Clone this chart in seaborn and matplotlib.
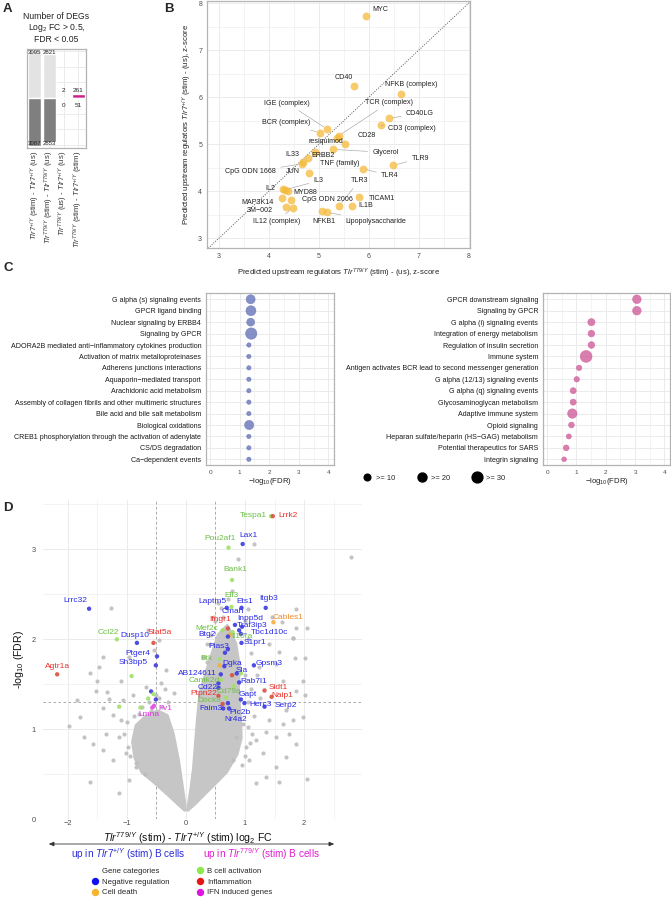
import matplotlib
matplotlib.use("Agg")
import numpy as np
import pandas as pd
import matplotlib.pyplot as plt
from matplotlib.lines import Line2D
from matplotlib.ticker import MultipleLocator
import seaborn as sns

# ── A: number of DEGs ───────────────────────────────────────────────────────
DEG_COMPARISONS = [
    r"$\mathit{Tlr7}^{+/Y}$ (stim) - $\mathit{Tlr7}^{+/Y}$ (us)",
    r"$\mathit{Tlr}^{779/Y}$ (stim) - $\mathit{Tlr}^{779/Y}$ (us)",
    r"$\mathit{Tlr}^{779/Y}$ (us) - $\mathit{Tlr7}^{+/Y}$ (us)",
    r"$\mathit{Tlr}^{779/Y}$ (stim) - $\mathit{Tlr7}^{+/Y}$ (stim)",
]
DEG_UP = [3095, 2821, 2, 261]
DEG_DOWN = [3087, 2853, 0, 51]

# ── B: upstream regulators (z-scores) ───────────────────────────────────────
REG_NAMES = ["MYC", "CD40", "NFKB (complex)", "CD40LG", "CD3 (complex)",
             "IGE (complex)", "BCR (complex)", "TCR (complex)", "resiquimod",
             "CD28", "Glycerol", "TNF (family)", "ERBB2", "IL33", "CpG ODN 1668",
             "JUN", "TLR9", "TLR4", "IL2", "MYD88", "IL3", "TLR3", "TICAM1",
             "IL1B", "CpG ODN 2006", "MAP3K14", "3M\u2212002", "IL12 (complex)",
             "NFKB1", "Lipopolysaccharide"]
REG_MUT = [5.94, 5.71, 6.65, 6.40, 6.25, 5.17, 5.03, 5.40, 5.36, 5.52, 5.29,
           4.93, 4.78, 4.68, 4.66, 4.80, 6.49, 5.88, 4.29, 4.38, 4.33, 5.41,
           5.81, 5.67, 4.45, 4.27, 4.35, 4.48, 5.07, 5.16]
REG_WT = [7.74, 6.23, 6.07, 5.55, 5.40, 5.32, 5.24, 5.18, 5.13, 5.00, 4.89,
          4.84, 4.71, 4.62, 4.58, 4.38, 4.55, 4.48, 4.05, 4.01, 4.03, 3.69,
          3.88, 3.69, 3.82, 3.85, 3.67, 3.65, 3.57, 3.55]

# ── C: pathway enrichment ───────────────────────────────────────────────────
PATH_DOWN = ["G alpha (s) signaling events", "GPCR ligand binding",
             "Nuclear signaling by ERBB4", "Signaling by GPCR",
             "ADORA2B mediated anti\u2212inflammatory cytokines production",
             "Activation of matrix metalloproteinases",
             "Adherens junctions interactions", "Aquaporin\u2212mediated transport",
             "Arachidonic acid metabolism",
             "Assembly of collagen fibrils and other multimeric structures",
             "Bile acid and bile salt metabolism", "Biological oxidations",
             "CREB1 phosphorylation through the activation of adenylate",
             "CS/DS degradation", "Ca\u2212dependent events"]
FDR_DOWN = [1.37, 1.38, 1.37, 1.39, 1.31, 1.31, 1.31, 1.31, 1.31, 1.31, 1.31,
            1.32, 1.31, 1.31, 1.31]
COUNT_DOWN = [20, 25, 15, 33, 3, 3, 3, 3, 3, 3, 3, 21, 3, 3, 3]

PATH_UP = ["GPCR downstream signaling", "Signaling by GPCR",
           "G alpha (i) signaling events", "Integration of energy metabolism",
           "Regulation of insulin secretion", "Immune system",
           "Antigen activates BCR lead to second messenger generation",
           "G alpha (12/13) signaling events", "G alpha (q) signaling events",
           "Glycosaminoglycan metabolism", "Adaptive immune system",
           "Opioid signaling", "Heparan sulfate/heparin (HS\u2212GAG) metabolism",
           "Potential therapeutics for SARS", "Integrin signaling"]
FDR_UP = [3.06, 3.06, 1.51, 1.51, 1.51, 1.33, 1.09, 1.01, 0.89, 0.89, 0.86,
          0.83, 0.74, 0.65, 0.58]
COUNT_UP = [18, 18, 12, 10, 10, 36, 6, 6, 8, 8, 22, 7, 5, 7, 4]

SIZE_LEVELS = [10, 20, 30]

# ── D: volcano ──────────────────────────────────────────────────────────────
CATEGORIES = ["Negative regulation", "Cell death", "B cell activation",
              "Inflammation", "IFN induced genes"]

GENE_NAMES = ["Lrrc32", "Ccl22", "Dusp10", "Stat5a", "Ptger4", "Sh3bp5", "Agtr1a",
              "Tespa1", "Lrrk2", "Pou2af1", "Lax1", "Bank1", "Ell3", "Laptm5",
              "Ets1", "Itgb3", "Cmah", "Cables1", "Inpp5d", "Ifngr1", "Traf3ip3",
              "Mef2c", "Tbc1d10c", "Btg2", "Il10ra", "S1pr1", "Pias3", "Btk",
              "Dgka", "Gpsm3", "Sla", "AB124611", "Camk2d", "Rab7l1", "Cd22",
              "Cd79a", "Sidt1", "Naip1", "Ptpn22", "Dock8", "Gapt", "Herc3",
              "Serp2", "Faim3", "Plc2b", "Nr4a2", "Fv1", "Lmna"]
GENE_FC = [-1.64, -1.17, -0.83, -0.55, -0.49, -0.51, -2.18, 1.44, 1.47, 0.72,
           0.96, 0.78, 0.77, 0.69, 0.94, 1.35, 0.83, 1.48, 0.95, 0.71, 0.90,
           0.62, 0.93, 0.71, 0.79, 0.94, 0.71, 0.57, 0.65, 1.15, 0.86, 0.59,
           0.59, 0.90, 0.55, 0.81, 1.33, 1.45, 0.55, 0.68, 0.93, 0.99, 1.33,
           0.63, 0.71, 0.73, -0.54, -0.57]
GENE_FDR = [2.34, 2.00, 1.96, 1.96, 1.81, 1.71, 1.61, 3.37, 3.37, 3.02, 3.06,
            2.66, 2.36, 2.35, 2.35, 2.35, 2.16, 2.19, 2.14, 2.12, 2.10, 2.10,
            2.06, 2.03, 2.08, 1.96, 1.89, 1.78, 1.70, 1.71, 1.62, 1.61, 1.55,
            1.52, 1.46, 1.48, 1.43, 1.36, 1.37, 1.35, 1.33, 1.29, 1.25, 1.23,
            1.29, 1.23, 1.26, 1.24]
GENE_CAT = ["Negative regulation", "B cell activation", "Negative regulation",
            "Inflammation", "Negative regulation", "Negative regulation",
            "Inflammation", "B cell activation", "Inflammation", "B cell activation",
            "Negative regulation", "B cell activation", "B cell activation",
            "Negative regulation", "Negative regulation", "Negative regulation",
            "Negative regulation", "Cell death", "Negative regulation",
            "Inflammation", "Negative regulation", "B cell activation",
            "Negative regulation", "Negative regulation", "B cell activation",
            "Negative regulation", "Negative regulation", "B cell activation",
            "Negative regulation", "Negative regulation", "Negative regulation",
            "Negative regulation", "B cell activation", "Negative regulation",
            "Negative regulation", "B cell activation", "Inflammation",
            "Inflammation", "Inflammation", "B cell activation",
            "Negative regulation", "Negative regulation", "Negative regulation",
            "Negative regulation", "Negative regulation", "Negative regulation",
            "IFN induced genes", "IFN induced genes"]

# coloured but unlabelled genes
EXTRA_FC = [-0.59, -0.55, -0.51, -0.64, -1.13, -0.77, -0.92, 0.74, 0.57, 0.78,
            0.93, 0.55, 0.66, 0.62]
EXTRA_FDR = [1.42, 1.39, 1.33, 1.34, 1.25, 1.24, 1.59, 2.05, 1.71, 1.60, 1.62,
             1.51, 1.85, 1.28]
EXTRA_CAT = ["Negative regulation", "B cell activation", "Negative regulation",
             "B cell activation", "B cell activation", "B cell activation",
             "B cell activation", "Cell death", "Cell death", "Inflammation",
             "B cell activation", "Negative regulation", "Negative regulation",
             "Inflammation"]

# scattered background genes
BG_FC = [-1.27, -1.63, -1.47, -1.51, -1.10, -1.33, -1.07, -0.90, -0.68, -0.42,
         -1.79, -1.72, -1.62, -1.41, -1.24, -0.79, -0.62, -0.51, -0.40, -1.13,
         -1.36, -1.02, -1.24, -1.41, -0.85, -1.30, -1.41, -0.96, -0.54, -0.34,
         -0.65, -0.45, -1.53, -1.84, -1.98, -1.58, -0.96, -1.13,
         1.81, 1.86, 2.01, 1.84, 1.64, 1.86, 2.01, 1.69, 1.81, 1.64, 1.36, 1.53,
         1.75, 1.98, 1.86, 1.69, 1.53, 1.36, 1.19, 1.58, 2.05, 1.30, 1.07, 1.02,
         1.19, 1.41, 1.98, 1.53, 1.24, 1.58, 0.85, 0.96, 0.79,
         1.15, 0.88, 2.79, 0.78, 1.87, 2.05, 1.62, 1.46, 1.82, 1.41, 0.59, 1.05,
         0.35, 0.40, 0.50, 0.62, 0.55, 0.72, 1.00, 1.05, 1.10, 1.20, 1.10, 1.05,
         1.15, 1.25, 1.00, -0.35, -0.45, -0.30, -0.20,
         -1.00, -1.05, -0.98, -0.85, -0.70, -0.60, -0.88, -0.75, -0.95, -1.10,
         1.05, 1.08, 1.00, 1.12, 0.95, 0.30, 0.28, 0.35, 0.42, 0.48]
BG_FDR = [2.35, 1.62, 1.69, 1.54, 1.54, 1.41, 1.32, 1.38, 1.47, 1.51,
          1.13, 0.91, 0.41, 1.23, 1.16, 1.17, 1.30, 1.38, 1.25, 0.91,
          0.95, 0.73, 0.66, 0.77, 0.58, 1.34, 1.80, 1.80, 1.88, 1.66,
          2.10, 1.99, 1.43, 1.32, 1.03, 0.84, 0.43, 0.29,
          2.01, 2.12, 1.79, 1.79, 1.54, 1.43, 1.38, 1.21, 1.10, 1.06, 0.97, 0.91,
          0.95, 1.14, 0.84, 0.69, 0.58, 0.47, 0.40, 0.41, 0.44, 0.73, 0.66, 0.80,
          0.88, 1.10, 1.54, 1.73, 1.69, 1.86, 0.91, 1.06, 0.66,
          3.06, 2.89, 2.92, 2.54, 2.34, 2.13, 2.19, 2.25, 2.01, 1.95, 2.35, 2.34,
          1.75, 1.95, 2.20, 2.25, 2.40, 2.45, 2.20, 2.00, 1.85, 1.60, 1.45, 1.30,
          1.15, 1.35, 1.60, 1.45, 1.35, 1.30, 1.40,
          1.08, 0.95, 0.80, 0.62, 0.50, 1.20, 1.15, 1.25, 0.70, 1.10,
          1.02, 0.85, 0.70, 0.95, 0.60, 1.55, 1.80, 1.95, 2.05, 2.25]

# outline of the dense part of the volcano
CLOUD_L_FC = [-0.02, -0.12, -0.30, -0.52, -0.74, -0.86, -0.90, -0.84, -0.68,
              -0.48, -0.32, -0.22, -0.13, -0.07, -0.03]
CLOUD_L_FDR = [0.10, 0.16, 0.27, 0.40, 0.52, 0.68, 0.86, 1.04, 1.14, 1.20,
               1.15, 0.95, 0.65, 0.38, 0.20]
CLOUD_R_FC = [0.03, 0.15, 0.30, 0.50, 0.68, 0.86, 0.93, 0.92, 0.88, 0.90, 0.84,
              0.70, 0.55, 0.45, 0.33, 0.24, 0.20, 0.17, 0.13, 0.08, 0.05]
CLOUD_R_FDR = [0.10, 0.17, 0.27, 0.40, 0.52, 0.72, 0.90, 1.12, 1.40, 1.70, 1.95,
               2.15, 2.05, 1.85, 1.60, 1.40, 1.12, 0.88, 0.55, 0.30, 0.18]

# ── label placement (offsets in pixels, style only) ─────────────────────────
REG_OFFSETS = {
    "MYC": (15, 6), "CD40": (-10, 9), "NFKB (complex)": (10, 9),
    "CD40LG": (31, 5), "CD3 (complex)": (31, -3), "IGE (complex)": (-40, 26),
    "BCR (complex)": (-34, 10), "TCR (complex)": (50, 33), "resiquimod": (-11, -3),
    "CD28": (22, 9), "Glycerol": (52, -3), "TNF (family)": (24, -12),
    "ERBB2": (15, 2), "IL33": (-10, 8), "CpG ODN 1668": (-51, -8),
    "JUN": (-16, 2), "TLR9": (27, 7), "TLR4": (27, -7), "IL2": (-13, 0),
    "MYD88": (17, -2), "IL3": (33, 9), "TLR3": (20, 25), "TICAM1": (23, -2),
    "IL1B": (14, 0), "CpG ODN 2006": (36, 0), "MAP3K14": (-25, -4),
    "3M\u2212002": (-27, -4), "IL12 (complex)": (-16, -14), "NFKB1": (2, -10),
    "Lipopolysaccharide": (49, -9),
}
REG_SEGMENTS = {"IGE (complex)", "BCR (complex)", "TCR (complex)", "Glycerol",
                "TNF (family)", "TLR9", "TLR4", "IL3", "TLR3", "IL12 (complex)",
                "Lipopolysaccharide", "CpG ODN 1668", "CD40LG", "CD3 (complex)"}

GENE_OFFSETS = {
    "Lrrc32": (-14, 8), "Ccl22": (-8, 7), "Dusp10": (-2, 7), "Stat5a": (6, 10),
    "Ptger4": (-19, 3), "Sh3bp5": (-23, 3), "Agtr1a": (0, 8), "Tespa1": (-18, 1),
    "Lrrk2": (15, 1), "Pou2af1": (-8, 9), "Lax1": (6, 9), "Bank1": (3, 10),
    "Ell3": (0, 11), "Laptm5": (-14, 6), "Ets1": (3, 6), "Itgb3": (3, 9),
    "Cmah": (-2, 13), "Cables1": (15, 5), "Inpp5d": (8, 8), "Ifngr1": (-8, 9),
    "Traf3ip3": (13, 5), "Mef2c": (-16, 2), "Tbc1d10c": (29, 1), "Btg2": (-21, 2),
    "Il10ra": (9, -4), "S1pr1": (13, 0), "Pias3": (-9, 3), "Btk": (-13, 1),
    "Dgka": (8, 3), "Gpsm3": (15, 2), "Sla": (5, 3), "AB124611": (-23, 1),
    "Camk2d": (-17, -1), "Rab7l1": (15, 1), "Cd22": (-11, 0), "Cd79a": (-5, -5),
    "Sidt1": (13.5, 3.5), "Naip1": (11, 1), "Ptpn22": (-15, 2), "Dock8": (-17, -3),
    "Gapt": (7, 4.5), "Herc3": (16.5, -1), "Serp2": (21, 0.7), "Faim3": (-12, 0),
    "Plc2b": (12, -9), "Nr4a2": (7, -11.5), "Fv1": (11, -3), "Lmna": (-3, -7),
}
GENE_SEGMENTS = {"Plc2b", "Nr4a2", "Tbc1d10c", "Fv1", "Lmna"}

POINT_COLORS = {"Negative regulation": "#3B3BE0", "Cell death": "#F2AE3D",
                "B cell activation": "#A2E06A", "Inflammation": "#D9503F",
                "IFN induced genes": "#E050E0"}
TEXT_COLORS = {"Negative regulation": "#2A2AE6", "Cell death": "#F0892C",
               "B cell activation": "#6DBE45", "Inflammation": "#E8312A",
               "IFN induced genes": "#E030E0"}
LEGEND_COLORS = {"Negative regulation": "#1010F0", "Cell death": "#F5B52E",
                 "B cell activation": "#8BEA4A", "Inflammation": "#E81414",
                 "IFN induced genes": "#E014E0"}

# ── Theme ───────────────────────────────────────────────────────────────────
sns.set_theme(style="white")
plt.rcParams["font.family"] = ["Liberation Sans", "DejaVu Sans"]
plt.rcParams["mathtext.fontset"] = "custom"
plt.rcParams["mathtext.rm"] = "Liberation Sans"
plt.rcParams["mathtext.sf"] = "Liberation Sans"
plt.rcParams["mathtext.it"] = "Liberation Sans:italic"
plt.rcParams["mathtext.bf"] = "Liberation Sans:bold"

GRID = "#EBEBEB"
BORDER = "#B3B3B3"
TICKTXT = "#4D4D4D"

W, H = 671, 900


def box(l, t, r, b):
    return [l / W, 1 - b / H, (r - l) / W, (b - t) / H]


def light(ax, frame=True, size=5.0):
    ax.set_facecolor("white")
    ax.set_axisbelow(True)
    ax.grid(True, which="major", color=GRID, lw=0.7)
    ax.grid(True, which="minor", color=GRID, lw=0.4)
    for s in ax.spines.values():
        s.set_visible(frame)
        s.set_color(BORDER)
        s.set_linewidth(0.9)
    ax.tick_params(which="major", length=2 if frame else 0, width=0.5,
                   color=BORDER, labelsize=size, labelcolor=TICKTXT, pad=1.5)
    ax.tick_params(which="minor", length=0)


fig = plt.figure(figsize=(W / 100, H / 100), dpi=100)

for letter, (x, y) in {"A": (3, 3), "B": (164, 3), "C": (3, 262), "D": (3, 502)}.items():
    fig.text(x / W, 1 - y / H, letter, fontsize=9.5, fontweight="bold",
             va="top", ha="left")

# ── Panel A ─────────────────────────────────────────────────────────────────
axA = fig.add_axes(box(27, 49, 86, 148))
up_pal = ["#E3E3E3", "#E3E3E3", "#E3E3E3", "#CC1F8C"]
dn_pal = ["#7F7F7F", "#7F7F7F", "#7F7F7F", "#6B6BC8"]
sns.barplot(x=DEG_COMPARISONS, y=DEG_UP, hue=DEG_COMPARISONS, palette=up_pal,
            width=0.9, saturation=1, legend=False, errorbar=None, ax=axA)
sns.barplot(x=DEG_COMPARISONS, y=[-v for v in DEG_DOWN], hue=DEG_COMPARISONS,
            palette=dn_pal, width=0.9, saturation=1, legend=False,
            errorbar=None, ax=axA)
axA.set_ylim(-3225, 3160)
axA.set_xlim(-0.55, 3.55)
light(axA, size=5.2)
axA.set_yticks([-3000, -2000, -1000, 1000, 2000, 3000])
axA.set_yticklabels([])
axA.tick_params(axis="y", length=0)
axA.tick_params(axis="x", length=0, labelsize=5.6, labelcolor="#333333",
                rotation=90, pad=2)
axA.grid(True, axis="x", color=GRID, lw=0.7)
top_up, top_dn = max(DEG_UP), max(DEG_DOWN)
for i, (u, d) in enumerate(zip(DEG_UP, DEG_DOWN)):
    if u > 1000:
        axA.text(i, top_up, str(u), ha="center", va="top", fontsize=4.3)
    else:
        axA.text(i, 350, str(u), ha="center", va="bottom", fontsize=4.6)
    if d > 1000:
        axA.text(i, -top_dn, str(d), ha="center", va="bottom", fontsize=4.3)
    else:
        axA.text(i, -350, str(d), ha="center", va="top", fontsize=4.6)
axA.set_title("Number of DEGs\nLog$_2$ FC > 0.5,\nFDR < 0.05", fontsize=6.2,
              linespacing=1.15, pad=5, color="#222222")
axA.set_xlabel("")
axA.set_ylabel("")

# ── Panel B ─────────────────────────────────────────────────────────────────
axB = fig.add_axes(box(207, 1, 470, 248))
light(axB)
axB.plot([2.5, 8.5], [2.5, 8.5], ls=(0, (1, 1.5)), color="#555555", lw=0.7,
         zorder=1)
sns.scatterplot(x=REG_MUT, y=REG_WT, color="#F5B93A", alpha=0.75, s=32,
                linewidth=0, ax=axB, zorder=3)
for name, x, y in zip(REG_NAMES, REG_MUT, REG_WT):
    dx, dy = REG_OFFSETS[name]
    arrow = None
    if name in REG_SEGMENTS:
        arrow = dict(arrowstyle="-", color="#A6A6A6", lw=0.45,
                     shrinkA=1, shrinkB=3)
    axB.annotate(name, (x, y), xytext=(dx, dy), textcoords="offset pixels",
                 ha="center", va="center", fontsize=5.1, color="#222222",
                 arrowprops=arrow, zorder=4)
axB.set_xlim(2.76, 8.03)
axB.set_ylim(2.79, 8.05)
axB.xaxis.set_major_locator(MultipleLocator(1))
axB.yaxis.set_major_locator(MultipleLocator(1))
axB.xaxis.set_minor_locator(MultipleLocator(0.5))
axB.yaxis.set_minor_locator(MultipleLocator(0.5))
axB.set_xlabel(r"Predicted upstream regulators $\mathit{Tlr}^{779/Y}$ (stim) - (us), z-score",
               fontsize=5.6, color="#222222", labelpad=5)
axB.set_ylabel(r"Predicted upstream regulators $\mathit{Tlr7}^{+/Y}$ (stim) - (us), z-score",
               fontsize=5.6, color="#222222", labelpad=3)

# ── Panel C ─────────────────────────────────────────────────────────────────
def pathway_panel(ax, names, fdr, counts, color):
    df = pd.DataFrame({"pathway": names, "fdr": fdr, "count": counts})
    light(ax, size=4.6)
    sns.scatterplot(data=df, x="fdr", y="pathway", size="count",
                    sizes=(8, 80), size_norm=(2, 40), color=color, alpha=0.8,
                    edgecolor=color, linewidth=0.4, legend=False, ax=ax,
                    zorder=3)
    ax.set_ylim(len(names) - 0.5, -0.55)
    ax.set_xlim(-0.14, 4.19)
    ax.xaxis.set_major_locator(MultipleLocator(1))
    ax.xaxis.set_minor_locator(MultipleLocator(0.5))
    ax.tick_params(axis="y", labelsize=5.15, labelcolor="#1A1A1A")
    ax.set_ylabel("")
    ax.set_xlabel(r"$-$log$_{10}$(FDR)", fontsize=5.6, color="#222222",
                  labelpad=1)


axC1 = fig.add_axes(box(206, 293, 334, 465))
pathway_panel(axC1, PATH_DOWN, FDR_DOWN, COUNT_DOWN, "#6674B8")
axC2 = fig.add_axes(box(543, 293, 670, 465))
pathway_panel(axC2, PATH_UP, FDR_UP, COUNT_UP, "#CF5F9C")


def size_area(n):
    return 8 + (n - 2) / 38 * 72


size_handles = [Line2D([], [], ls="", marker="o", color="black",
                       markersize=np.sqrt(size_area(n))) for n in SIZE_LEVELS]
fig.legend(size_handles, [f">= {n}" for n in SIZE_LEVELS], ncol=3,
           loc="center", bbox_to_anchor=(432 / W, 1 - 478 / H), frameon=False,
           fontsize=5.4, handletextpad=0.2, columnspacing=2.6)

# ── Panel D ─────────────────────────────────────────────────────────────────
axD = fig.add_axes(box(43, 500, 362, 819))
light(axD, frame=False, size=5.4)
axD.fill(CLOUD_L_FC, CLOUD_L_FDR, color="#C6C6C6", lw=2.5, joinstyle="round",
         zorder=2)
axD.fill(CLOUD_R_FC, CLOUD_R_FDR, color="#C6C6C6", lw=2.5, joinstyle="round",
         zorder=2)
sns.scatterplot(x=BG_FC, y=BG_FDR, color="#BDBDBD", s=9, linewidth=0,
                alpha=0.9, ax=axD, zorder=2)
for c in [-0.5, 0.5]:
    axD.axvline(c, ls=(0, (3, 3)), color="#9E9E9E", lw=0.6, zorder=1)
axD.axhline(-np.log10(0.05), ls=(0, (3, 3)), color="#9E9E9E", lw=0.6, zorder=1)
sns.scatterplot(x=EXTRA_FC, y=EXTRA_FDR, hue=EXTRA_CAT, palette=POINT_COLORS,
                s=10, linewidth=0, alpha=0.9, legend=False, ax=axD, zorder=3)
sns.scatterplot(x=GENE_FC, y=GENE_FDR, hue=GENE_CAT, palette=POINT_COLORS,
                s=10, linewidth=0, alpha=0.9, legend=False, ax=axD, zorder=3)
for name, x, y, cat in zip(GENE_NAMES, GENE_FC, GENE_FDR, GENE_CAT):
    dx, dy = GENE_OFFSETS[name]
    arrow = None
    if name in GENE_SEGMENTS:
        arrow = dict(arrowstyle="-", color=POINT_COLORS[cat], lw=0.4,
                     shrinkA=1, shrinkB=2)
    axD.annotate(name, (x, y), xytext=(dx, dy), textcoords="offset pixels",
                 ha="center", va="center", fontsize=6.0, color=TEXT_COLORS[cat],
                 arrowprops=arrow, zorder=4)
axD.set_xlim(-2.42, 2.98)
axD.set_ylim(0, 3.55)
axD.xaxis.set_major_locator(MultipleLocator(1))
axD.xaxis.set_minor_locator(MultipleLocator(0.5))
axD.yaxis.set_major_locator(MultipleLocator(1))
axD.yaxis.set_minor_locator(MultipleLocator(0.5))
axD.tick_params(axis="x", pad=0.5)
axD.tick_params(axis="y", pad=5)
axD.set_ylabel(r"-log$_{10}$ (FDR)", fontsize=7.6, color="#111111", labelpad=4)
axD.set_xlabel("")

fig.text(188 / W, 1 - 838 / H,
         r"$\mathit{Tlr}^{779/Y}$ (stim) - $\mathit{Tlr7}^{+/Y}$ (stim) log$_2$ FC",
         fontsize=7.6, ha="center", va="center", color="#111111")
fig.patches.append(matplotlib.patches.FancyArrowPatch(
    (46 / W, 1 - 844 / H), (337 / W, 1 - 844 / H), transform=fig.transFigure,
    arrowstyle="<|-|>,head_length=3,head_width=1.3", color="#333333", lw=0.6))
fig.text(128 / W, 1 - 854 / H,
         r"up in $\mathit{Tlr7}^{+/Y}$ (stim) B cells", fontsize=7.2,
         ha="center", va="center", color="#2B2BD8")
fig.text(262 / W, 1 - 854 / H,
         r"up in $\mathit{Tlr}^{779/Y}$ (stim) B cells", fontsize=7.2,
         ha="center", va="center", color="#E01FD0")

cat_handles = [Line2D([], [], ls="", marker="o", color="white", alpha=0,
                      markersize=5)]
cat_labels = ["Gene categories"]
for c in ["Negative regulation", "Cell death", "B cell activation",
          "Inflammation", "IFN induced genes"]:
    cat_handles.append(Line2D([], [], ls="", marker="o", markersize=4.3,
                              color=LEGEND_COLORS[c]))
    cat_labels.append(c)
fig.legend(cat_handles, cat_labels, ncol=2, loc="upper left",
           bbox_to_anchor=(88 / W, 1 - 864 / H), frameon=False, fontsize=5.6,
           handlelength=1.0, handletextpad=0.4, columnspacing=3.4,
           labelspacing=0.45, borderaxespad=0)

fig.savefig("out.png", dpi=100)
